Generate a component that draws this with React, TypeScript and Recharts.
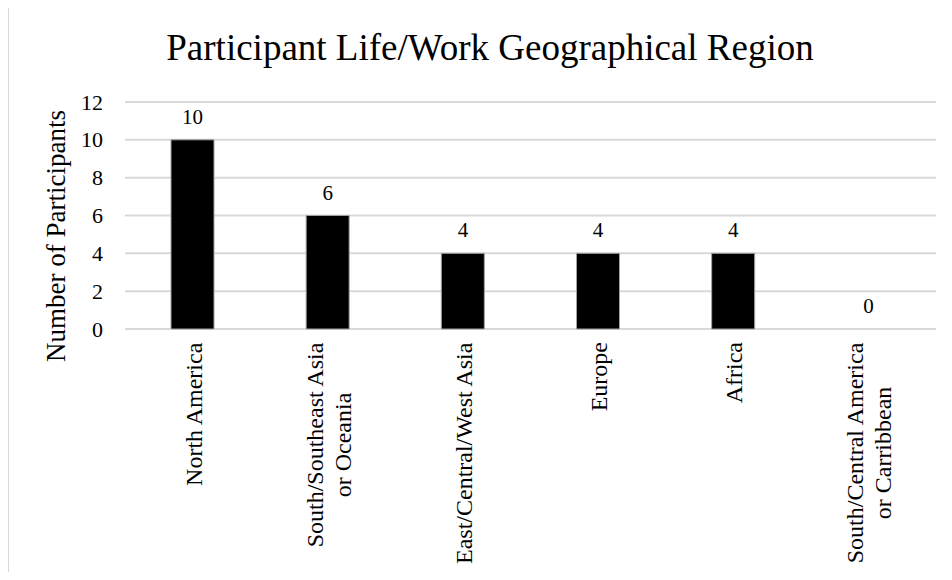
import { ComposedChart, Bar, Line, XAxis, YAxis, CartesianGrid, LabelList } from "recharts";

const regions = [
  "North America",
  "South/Southeast Asia\nor Oceania",
  "East/Central/West Asia",
  "Europe",
  "Africa",
  "South/Central America\nor Carribbean",
];
const participants = [10, 6, 4, 4, 4, 0];
const yTicks = [0, 2, 4, 6, 8, 10, 12];

const data = regions.map((region, i) => ({ region, value: participants[i] }));

const FONT = '"Liberation Serif", "Times New Roman", serif';

let ctx: CanvasRenderingContext2D | null = null;
function textWidth(s: string, size: number) {
  if (!ctx) ctx = document.createElement("canvas").getContext("2d");
  if (!ctx) return s.length * size * 0.46;
  ctx.font = `${size}px ${FONT}`;
  return ctx.measureText(s).width;
}

function YTick({ y, payload }: any) {
  return (
    <text x={103} y={y} dy={7.5} textAnchor="end" fontSize={22} fontFamily={FONT} fill="#000">
      {payload.value}
    </text>
  );
}

// multi-line labels: lines centered on each other, block starts just below the axis
function XTick({ x, y, payload }: any) {
  const lines = String(payload.value).split("\n");
  const n = lines.length;
  const longest = Math.max(...lines.map((l) => textWidth(l, 24)));
  const mid = y + 13 + longest / 2;
  return (
    <g>
      {lines.map((line, i) => (
        <text
          key={i}
          transform={`translate(${x + 9 + (i - (n - 1) / 2) * 28}, ${mid}) rotate(-90)`}
          textAnchor="middle"
          fontSize={24}
          fontFamily={FONT}
          fill="#000"
        >
          {line}
        </text>
      ))}
    </g>
  );
}

function YLabel() {
  return (
    <text
      transform="translate(65, 236) rotate(-90)"
      textAnchor="middle"
      fontSize={27}
      fontFamily={FONT}
      fill="#000"
    >
      Number of Participants
    </text>
  );
}

export default function App() {
  return (
    <div
      style={{
        position: "relative",
        width: 952,
        height: 580,
        margin: -8,
        overflow: "hidden",
        background: "#fff",
      }}
    >
      <div
        style={{
          position: "absolute",
          left: 7,
          top: 5,
          width: 980,
          height: 620,
          border: "2px solid #d9d9d9",
        }}
      />
      <div
        style={{
          position: "absolute",
          left: 0,
          top: 30,
          width: 980,
          textAlign: "center",
          fontFamily: FONT,
          fontSize: 37,
          lineHeight: "36px",
          color: "#000",
        }}
      >
        Participant Life/Work Geographical Region
      </div>
      <div style={{ position: "absolute", left: 0, top: 0 }}>
        <ComposedChart
          width={952}
          height={580}
          data={data}
          margin={{ top: 102, right: 16, bottom: 11, left: 0 }}
          barSize={43}
        >
          <CartesianGrid vertical={false} stroke="#d9d9d9" strokeWidth={2} />
          <XAxis
            dataKey="region"
            height={240}
            interval={0}
            axisLine={false}
            tickLine={false}
            tickSize={0}
            tickMargin={0}
            tick={<XTick />}
          />
          <YAxis
            width={125}
            domain={[0, 12]}
            ticks={yTicks}
            axisLine={false}
            tickLine={false}
            tick={<YTick />}
            label={<YLabel />}
          />
          <Bar dataKey="value" fill="#000" stroke="#a0a0a0" strokeWidth={1} isAnimationActive={false} />
          <Line
            dataKey="value"
            stroke="none"
            dot={false}
            activeDot={false}
            legendType="none"
            isAnimationActive={false}
          >
            <LabelList
              dataKey="value"
              position="top"
              offset={16}
              fontSize={21}
              fontFamily={FONT}
              fill="#000"
            />
          </Line>
        </ComposedChart>
      </div>
    </div>
  );
}
